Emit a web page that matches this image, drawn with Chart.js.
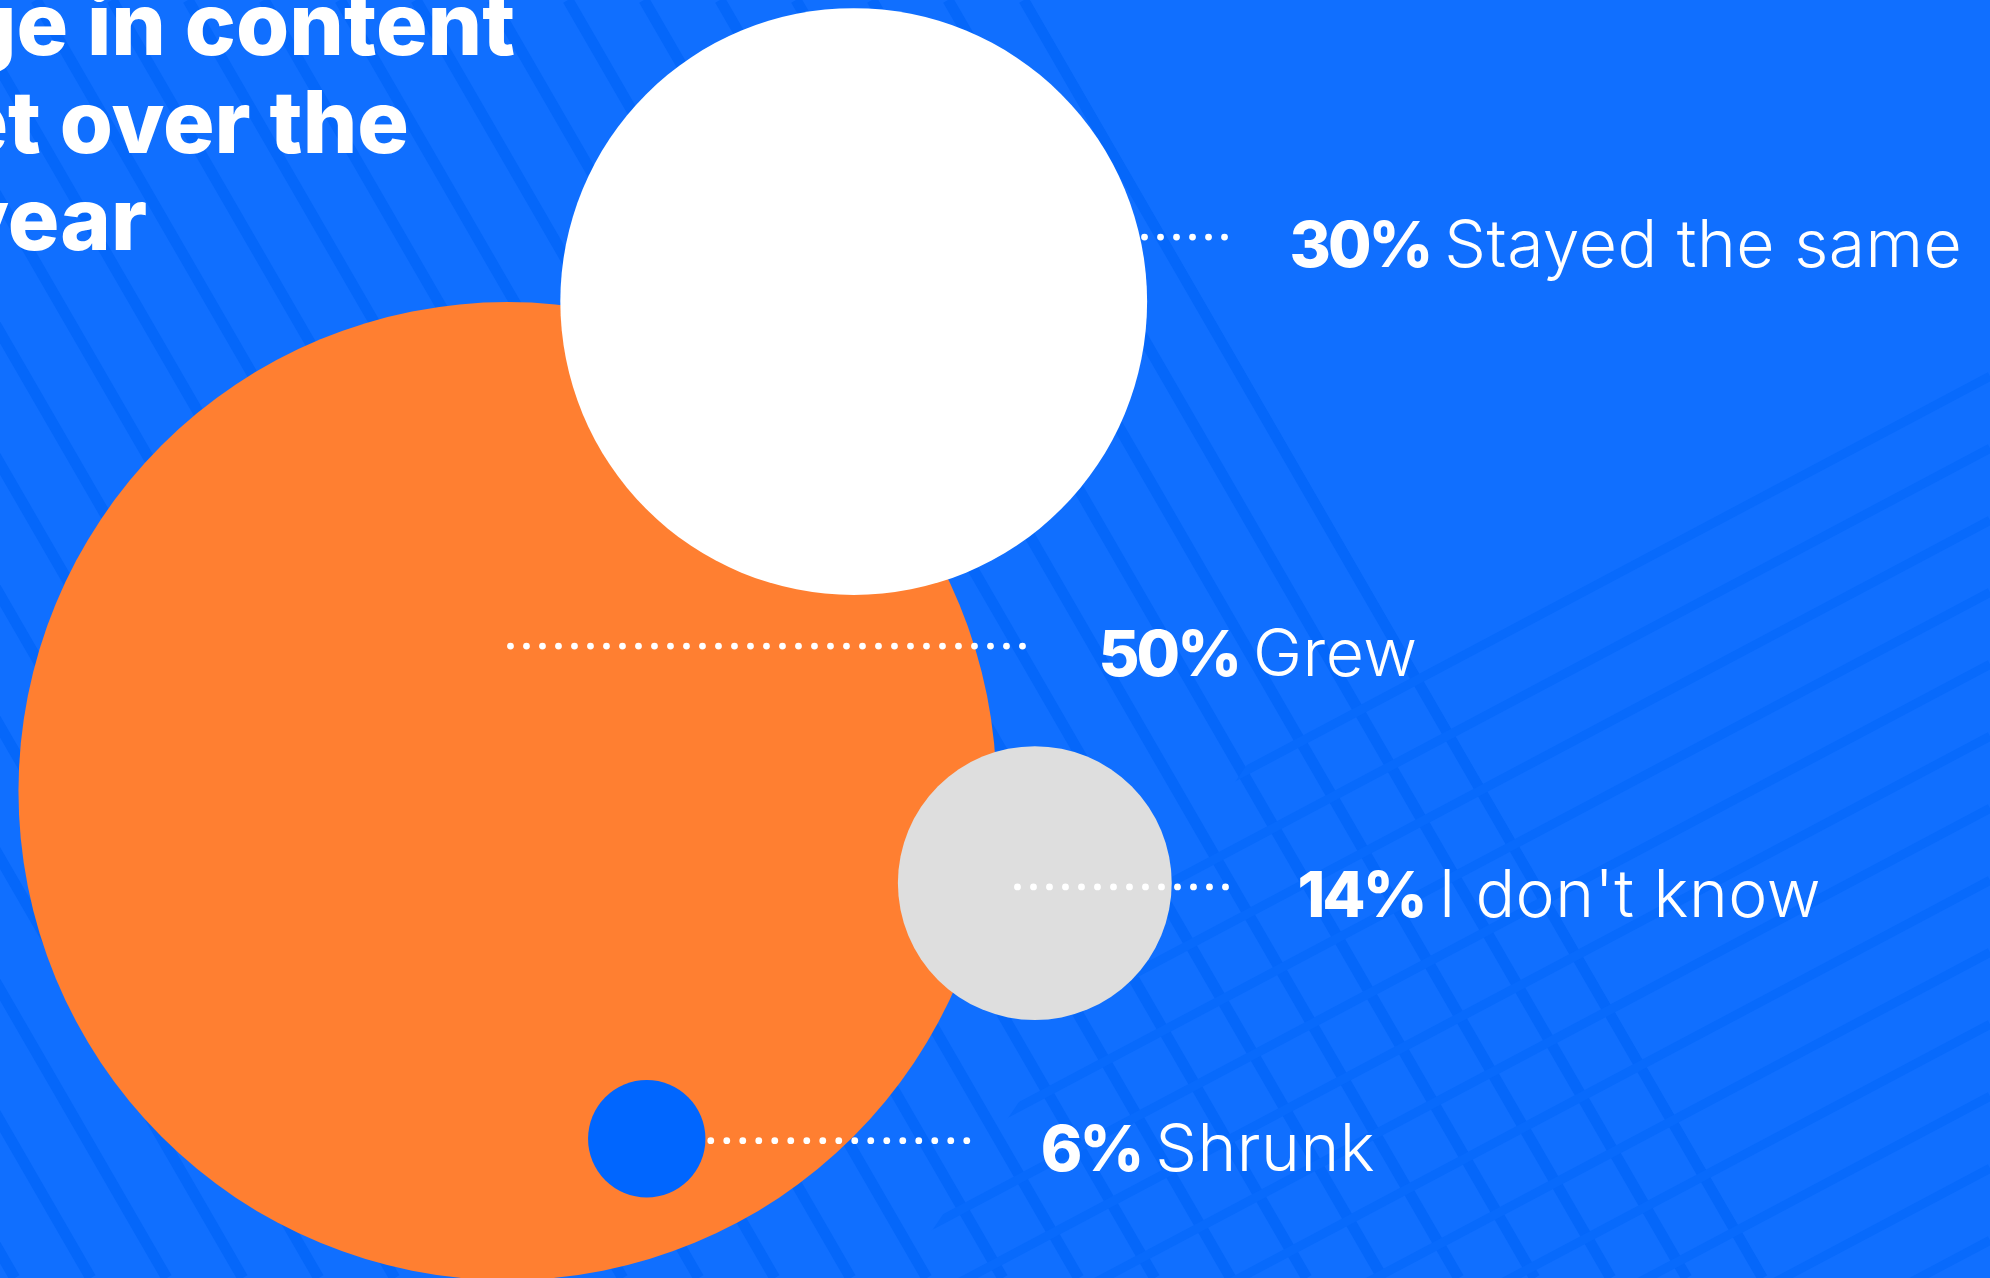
<!DOCTYPE html>
<html>
<head>
<meta charset="utf-8">
<title>Change in content budget</title>
<script src="https://cdn.jsdelivr.net/npm/chart.js@4.4.1/dist/chart.umd.min.js"></script>
<style>
  html, body { margin: 0; padding: 0; background: #106fff; overflow: hidden; }
  #wrap { width: 1990px; height: 1278px; }
</style>
</head>
<body>
<div id="wrap"><canvas id="myChart" width="1990" height="1278"></canvas></div>
<script>
// Data
var categories = ["Grew", "Stayed the same", "I don't know", "Shrunk"];
var percentValues = [50, 30, 14, 6];
var titleLines = ["Change in content", "budget over the", "past year"];

// Layout, in scale units (0-100 on both axes)
var bubbleX = [25.5, 42.9, 52.0, 32.5];
var bubbleY = [61.9, 23.6, 69.1, 89.1];
var labelX = [55.2, 64.8, 65.2, 52.3];
var labelY = [52.9, 20.9, 71.75, 91.6];
var leaderStart = [0, 0, -0.1, 1]; // start of dotted line, as fraction of radius from centre
var leaderGap = [76, 65, 72, 74];  // px between last dot and label
var bubbleColors = ["#ff7f31", "#ffffff", "#dedede", "#0066ff"];
var radiusPerPoint = 9.78;

var FONT = "Inter, 'Open Sans', Lato, sans-serif";

// background + faint diagonal stripes
var backgroundPlugin = {
    id: "background",
    beforeDraw: function(chart) {
        var ctx = chart.ctx;
        var w = chart.width, h = chart.height;
        ctx.save();
        ctx.fillStyle = "#106fff";
        ctx.fillRect(0, 0, w, h);

        ctx.strokeStyle = "#0567fa";
        ctx.lineWidth = 11;
        // steep stripes going down to the right
        ctx.save();
        ctx.beginPath();
        ctx.moveTo(0, 0); ctx.lineTo(1030, 0); ctx.lineTo(1030 + h / 1.73, h); ctx.lineTo(0, h);
        ctx.closePath();
        ctx.clip();
        for (var k = -800; k <= 1030; k += 76) {
            ctx.beginPath();
            ctx.moveTo(k, 0);
            ctx.lineTo(k + h / 1.73, h);
            ctx.stroke();
        }
        ctx.restore();

        // shallow stripes in the lower right
        ctx.save();
        ctx.beginPath();
        ctx.moveTo(900, h); ctx.lineTo(1250, 760); ctx.lineTo(w, 360); ctx.lineTo(w, h);
        ctx.closePath();
        ctx.clip();
        ctx.strokeStyle = "#086afc";
        ctx.lineWidth = 9;
        for (var j = 300; j <= 2200; j += 72) {
            ctx.beginPath();
            ctx.moveTo(700, j + 400);
            ctx.lineTo(w, j + 400 - (w - 700) * 0.53);
            ctx.stroke();
        }
        ctx.restore();
        ctx.restore();
    }
};

// title, cut off at the left edge
var titlePlugin = {
    id: "cutTitle",
    beforeDatasetsDraw: function(chart) {
        var ctx = chart.ctx;
        var rights = [515, 409, 147];
        var baselines = [55, 153, 250];
        ctx.save();
        ctx.fillStyle = "#ffffff";
        ctx.font = "800 86px " + FONT;
        ctx.textAlign = "right";
        ctx.textBaseline = "alphabetic";
        for (var i = 0; i < titleLines.length; i++) {
            ctx.fillText(titleLines[i], rights[i], baselines[i]);
        }
        ctx.restore();
    }
};

// dotted leaders and labels
var labelPlugin = {
    id: "bubbleLabels",
    afterDatasetsDraw: function(chart) {
        var ctx = chart.ctx;
        var xs = chart.scales.x, ys = chart.scales.y;
        var meta = chart.getDatasetMeta(0);
        ctx.save();
        for (var i = 0; i < percentValues.length; i++) {
            var pt = meta.data[i];
            var r = percentValues[i] * radiusPerPoint;
            var lx = xs.getPixelForValue(labelX[i]);
            var base = ys.getPixelForValue(labelY[i]);
            var ly = base - 30;

            // dots, placed back from the label end
            ctx.fillStyle = "#ffffff";
            var x0 = pt.x + leaderStart[i] * r - 6;
            for (var dx = lx - leaderGap[i]; dx >= x0; dx -= 16) {
                ctx.beginPath();
                ctx.arc(dx, ly, 3.4, 0, Math.PI * 2);
                ctx.fill();
            }

            ctx.textAlign = "left";
            ctx.textBaseline = "alphabetic";
            ctx.font = "800 63px " + FONT;
            ctx.letterSpacing = "-3px";
            var pct = percentValues[i] + "%";
            ctx.fillText(pct, lx, base);
            var pw = ctx.measureText(pct).width;
            ctx.letterSpacing = "0.5px";
            ctx.font = "300 66px " + FONT;
            ctx.fillText(categories[i], lx + pw + 14, base);
        }
        ctx.restore();
    }
};

var bubbleData = [];
for (var i = 0; i < percentValues.length; i++) {
    bubbleData.push({ x: bubbleX[i], y: bubbleY[i], r: percentValues[i] * radiusPerPoint });
}

var ctx = document.getElementById("myChart").getContext("2d");
var myChart = new Chart(ctx, {
    type: "bubble",
    data: {
        labels: categories,
        datasets: [{
            data: bubbleData,
            backgroundColor: bubbleColors,
            borderWidth: 0,
            hoverRadius: 0,
            clip: false
        }]
    },
    options: {
        responsive: false,
        devicePixelRatio: 1,
        animation: false,
        events: [],
        layout: { padding: 0, autoPadding: false },
        scales: {
            x: { type: "linear", min: 0, max: 100, display: false },
            y: { type: "linear", min: 0, max: 100, reverse: true, display: false }
        },
        plugins: {
            legend: { display: false },
            tooltip: { enabled: false }
        }
    },
    plugins: [backgroundPlugin, titlePlugin, labelPlugin]
});
</script>
</body>
</html>
